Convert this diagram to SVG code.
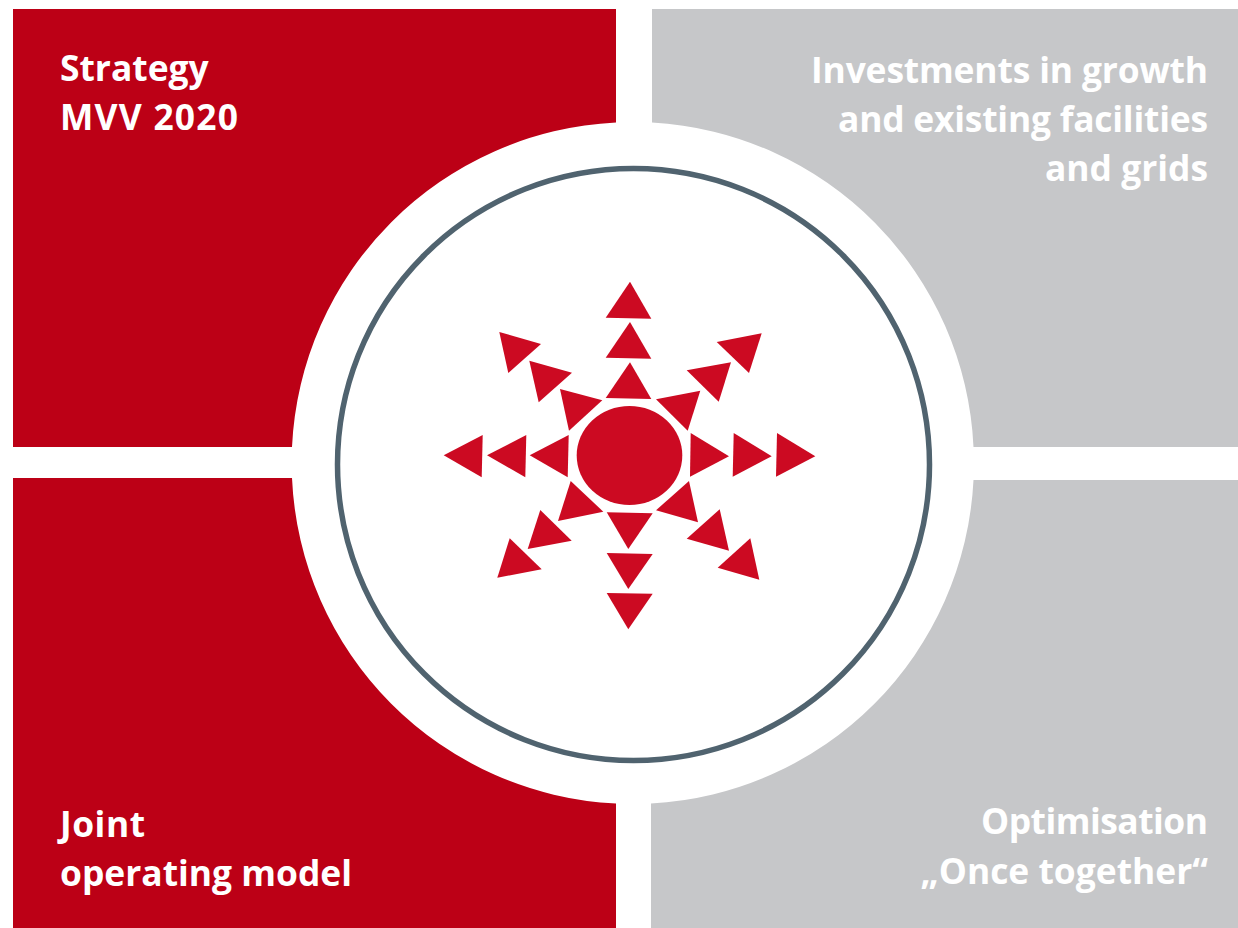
<svg xmlns="http://www.w3.org/2000/svg" width="1238" height="928" viewBox="0 0 1238 928">
<style>
.red{fill:#bc0016}
.grey{fill:#c6c7c9}
.tri{fill:#cc0a22}
text{font-family:"Open Sans","Noto Sans","Liberation Sans",sans-serif;font-weight:700;font-size:35.400px;fill:#fff}
.r{text-anchor:end}
</style>
<rect width="1238" height="928" fill="#fff"/>
<g id="panel-strategy">
<path class="red" d="M13 9H616V122.500A341 341 0 0 0 292 447H13Z"/>
<text x="60" y="81">Strategy</text>
<text x="60" y="130" textLength="178">MVV 2020</text>
</g>
<g id="panel-investments">
<path class="grey" d="M652 9H1238V447H973.500A341 341 0 0 0 652 122.500Z"/>
<text class="r" x="1208" y="83" textLength="397">Investments in growth</text>
<text class="r" x="1208" y="132" textLength="370">and existing facilities</text>
<text class="r" x="1208" y="181">and grids</text>
</g>
<g id="panel-operating">
<path class="red" d="M13 478H292A341 341 0 0 0 616 803.500V928H13Z"/>
<text x="60" y="837" textLength="85">Joint</text>
<text x="60" y="886">operating model</text>
</g>
<g id="panel-optimisation">
<path class="grey" d="M973.500 480H1238V928H651V803.500A341 341 0 0 0 973.500 480Z"/>
<text class="r" x="1208" y="834" textLength="227">Optimisation</text>
<text class="r" x="1208" y="884">„Once together“</text>
</g>
<g id="ring">
<circle cx="633.500" cy="464.500" r="296" fill="#fff" stroke="#50636f" stroke-width="5.500"/>
</g>
<g id="sun">
<ellipse class="tri" cx="629.500" cy="455.500" rx="52.800" ry="49.500"/>
<polygon class="tri" points="630,281.700 605.700,317.700 651.300,318.700"/>
<polygon class="tri" points="630,322 605.700,357.700 651.300,358.700"/>
<polygon class="tri" points="630,362.300 605.700,398 651.300,399"/>
<polygon class="tri" points="761.700,333.300 716.700,342 749,373"/>
<polygon class="tri" points="731,362.300 686.700,370.300 718.700,401.700"/>
<polygon class="tri" points="700.300,390.700 656,399.300 687.700,430.700"/>
<polygon class="tri" points="690.700,433 729,456.300 690,476.700"/>
<polygon class="tri" points="733.700,433 771.700,456.300 732.700,476.700"/>
<polygon class="tri" points="777,433 815.300,456.300 776,476.700"/>
<polygon class="tri" points="689,481 698,522.300 656,510.300"/>
<polygon class="tri" points="719.700,509.300 729,550.700 686.700,538.700"/>
<polygon class="tri" points="750.300,538.300 759.300,579.700 717.700,567.700"/>
<polygon class="tri" points="606.700,512.300 652.700,513.300 628.300,549"/>
<polygon class="tri" points="606.700,553 652.700,554 628.300,589"/>
<polygon class="tri" points="606.700,593 652.700,593.700 628.300,629.300"/>
<polygon class="tri" points="570.700,481 603.300,511.700 558,521"/>
<polygon class="tri" points="540.300,510 571.700,540.700 527.700,549"/>
<polygon class="tri" points="509.700,538.300 541.700,569.300 497.300,577.700"/>
<polygon class="tri" points="568.700,435 567.700,477.300 529.700,455.300"/>
<polygon class="tri" points="526.300,435 525.300,477.300 487,455.300"/>
<polygon class="tri" points="482.700,435 481.700,477.300 443.700,455.300"/>
<polygon class="tri" points="560,389 602.300,400.300 569,430.700"/>
<polygon class="tri" points="529.300,360.700 572,372.700 538.700,402.300"/>
<polygon class="tri" points="499.300,332 541,344 508.300,373"/>
</g>
</svg>
